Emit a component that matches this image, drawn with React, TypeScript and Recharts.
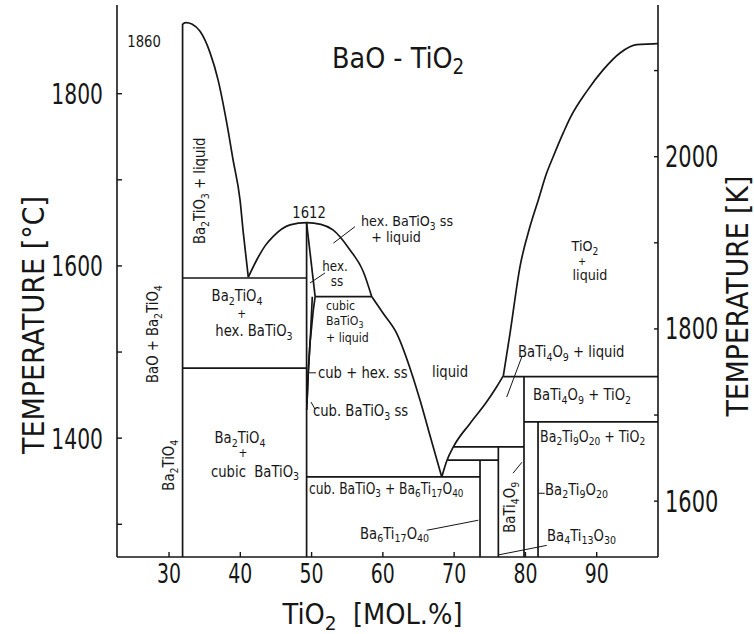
import { Label, Line, LineChart, ReferenceDot, XAxis, YAxis } from "recharts";

// BaO–TiO2 phase diagram (mol.% TiO2, °C)
const X_TICKS = [30, 40, 50, 60, 70, 80, 90];
const C_TICKS = [1300, 1400, 1500, 1600, 1700, 1800];
const C_LABELED = [1400, 1600, 1800];
const K_TICKS = [1600, 1700, 1800, 1900, 2000, 2100];
const K_LABELED = [1600, 1800, 2000];

// phase boundaries: [mol.% TiO2, °C]
const ba2tio4Line = [[31.9, 1881], [31.9, 1262]];
const ba2tio4Liquidus = [
  [31.9, 1881], [32.4, 1882.6], [33.2, 1880.8], [34.35, 1872.4], [35.75, 1847.7],
  [36.87, 1816.3], [38.09, 1766.3], [38.98, 1723.3], [39.96, 1676.7], [40.42, 1638.4],
  [41.12, 1586.9],
];
const eutecticLeft = [[31.9, 1586], [49.3, 1586]];
const hexCubicLeft = [[31.9, 1481.4], [49.3, 1481.4]];
const batio3Line = [[49.3, 1650], [49.3, 1262]];
const dome = [
  [41.12, 1586.9], [42.3, 1606.9], [43.47, 1623.3], [44.59, 1634.1], [46.98, 1647.7],
  [49.3, 1650.3], [51.3, 1648.3], [53.0, 1641.9], [55.39, 1618.6], [57.26, 1593.3],
  [58.44, 1564.3],
];
const hexSsRight = [[49.3, 1650], [50.5, 1564.3]];
const hexCubicRight = [[50.5, 1564.3], [58.44, 1564.3]];
const cubicSolidus = [[50.5, 1564.3], [50.24, 1548.8], [49.78, 1510.5], [49.5, 1471.3], [49.32, 1432.6]];
const cubicInner = [[50.1, 1564.3], [49.85, 1520], [49.55, 1480], [49.35, 1440]];
const lowerLiquidus = [
  [58.44, 1564.3], [60.06, 1544.7], [61.94, 1521.7], [64.05, 1475.2], [65.21, 1444.2],
  [66.4, 1409.3], [68.26, 1355],
];
const eutecticMid = [[49.3, 1355], [73.63, 1355]];
const rightLiquidus = [
  [68.26, 1355], [69.0, 1374.4], [69.89, 1389.9], [72.23, 1417.1], [74.57, 1442.2],
  [75.97, 1459.7], [76.9, 1472.4],
];
const tio2Liquidus = [
  [76.9, 1472.4], [77.84, 1521.7], [79.24, 1599.2], [80.64, 1645.7], [81.81, 1676.7],
  [82.99, 1708.1], [83.91, 1727.1], [85.32, 1754.7], [86.26, 1771.7], [88.6, 1802.7],
  [90.93, 1827.9], [93.27, 1847.3], [95.61, 1857], [97.94, 1857.8], [98.6, 1858.1],
];
const peritectic = [[76.9, 1471.5], [98.6, 1471.5]];
const bati4o9Line = [[79.8, 1471.5], [79.8, 1262]];
const line1419 = [[79.8, 1419], [98.6, 1419]];
const ba2ti9o20Line = [[81.77, 1419], [81.77, 1262]];
const line1390 = [[69.89, 1389.9], [79.8, 1389.9]];
const line1374 = [[69.1, 1374.4], [76.2, 1374.4]];
const ba6ti17Line = [[73.63, 1374.4], [73.63, 1262]];
const ba4ti13Line = [[76.2, 1389.9], [76.2, 1262]];

// label leader lines
const leaders = [
  [[49.78, 1580.2], [51.89, 1591.9]],
  [[53.05, 1626.4], [56.1, 1645.7]],
  [[49.64, 1475.9], [50.62, 1475.9]],
  [[49.92, 1441.9], [50.48, 1433.7]],
  [[66.15, 1293], [73.39, 1304.7]],
  [[76.2, 1264.4], [82.99, 1275.5]],
  [[78.26, 1359.3], [79.52, 1372.1]],
  [[79.48, 1494.2], [77.37, 1447.7]],
  [[81.77, 1336], [82.7, 1336]],
];

const boundaries = [
  ba2tio4Line, ba2tio4Liquidus, eutecticLeft, hexCubicLeft, batio3Line, dome,
  hexSsRight, hexCubicRight, cubicSolidus, cubicInner, lowerLiquidus, eutecticMid,
  rightLiquidus, tio2Liquidus, peritectic, bati4o9Line, line1419, ba2ti9o20Line,
  line1390, line1374, ba6ti17Line, ba4ti13Line,
];
const curved = new Set([ba2tio4Liquidus, dome, lowerLiquidus, rightLiquidus, tio2Liquidus]);

// text in the field: [text, mol.%, °C, anchor, rotated, size, x-scale]
type Lbl = [string, number, number, "start" | "middle", boolean?, number?, number?];
const labels: Lbl[] = [
  ["1860", 26.49, 1859.9, "middle"],
  ["1612", 49.64, 1661.6, "middle"],
  ["Ba_2TiO_3 + liquid", 34.35, 1687.2, "middle", true],
  ["BaO + Ba_2TiO_4", 27.76, 1520.9, "middle", true],
  ["Ba_2TiO_4", 30.0, 1368.6, "middle", true],
  ["Ba_2TiO_4", 39.54, 1565.1, "middle"],
  ["+", 40.2, 1544, "middle", false, 12],
  ["hex. BaTiO_3", 41.92, 1524.4, "middle"],
  ["Ba_2TiO_4", 39.96, 1400, "middle"],
  ["+", 40.38, 1383.5, "middle", false, 12],
  ["cubic  BaTiO_3", 42.07, 1361.6, "middle"],
  ["hex.", 53.29, 1600, "middle", false, 13.5],
  ["ss", 53.57, 1582.5, "middle", false, 13.5],
  ["hex. BaTiO_3 ss", 63.39, 1652, "middle", false, 14.5],
  ["+ liquid", 61.85, 1633.5, "middle", false, 14.5],
  ["cubic", 52.03, 1554, "start", false, 12.5],
  ["BaTiO_3", 52.03, 1536, "start", false, 12.5],
  ["+ liquid", 52.03, 1516.5, "start", false, 12.5],
  ["cub + hex. ss", 50.9, 1475.9, "start"],
  ["liquid", 69.42, 1476.7, "middle"],
  ["cub. BaTiO_3 ss", 50.2, 1431.4, "start"],
  ["cub. BaTiO_3 + Ba_6Ti_17O_40", 49.64, 1341.9, "start", false, 15, 0.82],
  ["Ba_6Ti_17O_40", 56.8, 1289.5, "start"],
  ["BaTi_4O_9", 77.84, 1319.8, "middle", true],
  ["TiO_2", 88.36, 1623, "middle", false, 14.5],
  ["+", 87.94, 1606.5, "middle", false, 11],
  ["liquid", 89.06, 1589.5, "middle", false, 14.5],
  ["BaTi_4O_9 + liquid", 78.96, 1500, "start"],
  ["BaTi_4O_9 + TiO_2", 81.07, 1450, "start"],
  ["Ba_2Ti_9O_20 + TiO_2", 82.05, 1402.3, "start", false, 15, 0.84],
  ["Ba_2Ti_9O_20", 82.75, 1340.7, "start"],
  ["Ba_4Ti_13O_30", 83.03, 1287.2, "start"],
  ["BaO - TiO_2", 52.87, 1842.4, "start", false, 29, 0.88],
];

const FONT = "'DejaVu Sans', sans-serif";
const INK = "#161616";

const toPts = (arr: number[][]) => arr.map(([p, t]) => ({ p, t }));

function split(s: string) {
  const out: { t: string; sub: boolean }[] = [];
  const re = /_(\d+)/g;
  let last = 0;
  let m: RegExpExecArray | null;
  while ((m = re.exec(s))) {
    if (m.index > last) out.push({ t: s.slice(last, m.index), sub: false });
    out.push({ t: m[1], sub: true });
    last = re.lastIndex;
  }
  if (last < s.length) out.push({ t: s.slice(last), sub: false });
  return out;
}

// text with chemical subscripts; sx squeezes the glyphs to mimic the narrow lettering
function Formula({ x, y, text, size = 15, anchor = "middle", rotate = false, sx = 0.88 }: any) {
  const segs = split(text);
  const sh = size * 0.32;
  let prevSub = false;
  return (
    <text
      x={0}
      y={0}
      fontSize={size}
      fontFamily={FONT}
      fill={INK}
      textAnchor={anchor}
      dominantBaseline="central"
      style={{ whiteSpace: "pre" }}
      transform={`translate(${x},${y})${rotate ? " rotate(-90)" : ""} scale(${sx},1)`}
    >
      {segs.map((s, i) => {
        const dy = s.sub && !prevSub ? sh : !s.sub && prevSub ? -sh : 0;
        prevSub = s.sub;
        return (
          <tspan key={i} dy={dy || undefined} fontSize={s.sub ? size * 0.72 : undefined}>
            {s.t}
          </tspan>
        );
      })}
    </text>
  );
}

const BottomTick = ({ x, y, payload }: any) => (
  <g>
    <line x1={x} x2={x} y1={y} y2={y - 5} stroke={INK} strokeWidth={1.4} />
    <Formula x={x} y={y + 16} text={String(payload.value)} size={27} sx={0.7} />
  </g>
);

const LeftTick = ({ x, y, payload }: any) => (
  <g>
    <line x1={x} x2={x + 5} y1={y} y2={y} stroke={INK} strokeWidth={1.4} />
    {C_LABELED.includes(payload.value) && (
      <Formula x={x - 14} y={y} text={String(payload.value)} size={29} sx={0.7} anchor="end" />
    )}
  </g>
);

const RightTick = ({ x, y, payload }: any) => (
  <g>
    <line x1={x} x2={x - 4} y1={y} y2={y} stroke={INK} strokeWidth={1.4} />
    {K_LABELED.includes(payload.value) && (
      <Formula x={x + 7} y={y} text={String(payload.value)} size={30} sx={0.7} anchor="start" />
    )}
  </g>
);

const X_DOMAIN = [22.7, 98.6];
const C_DOMAIN = [1262, 1903];
const K_DOMAIN = [C_DOMAIN[0] + 273.15, C_DOMAIN[1] + 273.15];

export default function App() {
  return (
    <div style={{ position: "absolute", left: 0, top: 0, background: "#fff" }}>
      <LineChart width={754} height={634} margin={{ top: 5, right: 0, bottom: 0, left: 0 }}>
        <XAxis
          xAxisId="b"
          type="number"
          dataKey="p"
          domain={X_DOMAIN}
          allowDataOverflow
          ticks={X_TICKS}
          height={77}
          tickSize={0}
          tickMargin={0}
          tick={<BottomTick />}
          axisLine={{ stroke: INK, strokeWidth: 1.6 }}
          tickLine={false}
        >
          <Label
            content={({ viewBox }: any) => (
              <Formula x={viewBox.x + viewBox.width / 2 - 15} y={viewBox.y + 57} text="TiO_2  [MOL.%]" size={28} sx={0.92} />
            )}
          />
        </XAxis>
        <XAxis
          xAxisId="t"
          orientation="top"
          type="number"
          domain={X_DOMAIN}
          allowDataOverflow
          height={0}
          tick={false}
          tickLine={false}
          axisLine={{ stroke: INK, strokeWidth: 1.6 }}
        />
        <YAxis
          yAxisId="c"
          type="number"
          domain={C_DOMAIN}
          allowDataOverflow
          ticks={C_TICKS}
          width={117}
          tickSize={0}
          tickMargin={0}
          tick={<LeftTick />}
          tickLine={false}
          axisLine={{ stroke: INK, strokeWidth: 1.6 }}
        >
          <Label
            content={({ viewBox }: any) => (
              <Formula x={viewBox.x + 33} y={viewBox.y + viewBox.height / 2 + 44} text="TEMPERATURE [°C]" size={31} sx={0.87} rotate />
            )}
          />
        </YAxis>
        <YAxis
          yAxisId="k"
          orientation="right"
          type="number"
          domain={K_DOMAIN}
          allowDataOverflow
          ticks={K_TICKS}
          width={96}
          tickSize={0}
          tickMargin={0}
          tick={<RightTick />}
          tickLine={false}
          axisLine={{ stroke: INK, strokeWidth: 1.6 }}
        >
          <Label
            content={({ viewBox }: any) => (
              <Formula x={viewBox.x + 79} y={viewBox.y + viewBox.height / 2 + 15} text="TEMPERATURE [K]" size={30} sx={0.89} rotate />
            )}
          />
        </YAxis>

        {boundaries.map((b, i) => (
          <Line
            key={`b${i}`}
            xAxisId="b"
            yAxisId="c"
            data={toPts(b)}
            dataKey="t"
            type={curved.has(b) ? "monotone" : "linear"}
            stroke={INK}
            strokeWidth={1.7}
            dot={false}
            activeDot={false}
            isAnimationActive={false}
          />
        ))}
        {leaders.map((b, i) => (
          <Line
            key={`l${i}`}
            xAxisId="b"
            yAxisId="c"
            data={toPts(b)}
            dataKey="t"
            type="linear"
            stroke={INK}
            strokeWidth={1}
            dot={false}
            activeDot={false}
            isAnimationActive={false}
          />
        ))}
        {labels.map(([text, p, t, anchor, rot, size, sx], i) => (
          <ReferenceDot
            key={`t${i}`}
            xAxisId="b"
            yAxisId="c"
            x={p}
            y={t}
            r={0}
            ifOverflow="visible"
            shape={(pr: any) => (
              <Formula x={pr.cx} y={pr.cy} text={text} anchor={anchor} rotate={!!rot} size={size ?? 15} sx={sx ?? 0.88} />
            )}
          />
        ))}
      </LineChart>
    </div>
  );
}
